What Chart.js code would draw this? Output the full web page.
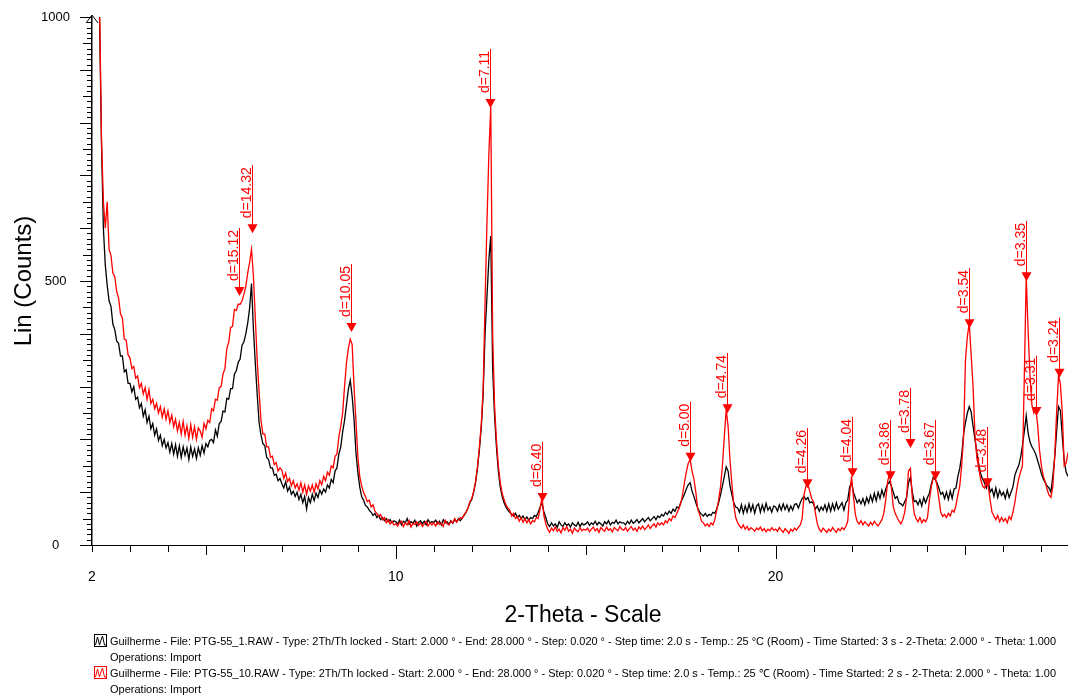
<!DOCTYPE html>
<html>
<head>
<meta charset="utf-8">
<title>XRD PTG-55</title>
<script src="https://cdn.jsdelivr.net/npm/chart.js@4.4.1/dist/chart.umd.min.js"></script>
<style>
  html, body { margin: 0; padding: 0; background: #fff; }
  #wrap { width: 1068px; height: 696px; }
</style>
</head>
<body>
<div id="wrap"><canvas id="xrdChart" width="1068" height="696"></canvas></div>
<script>
// scan: start 2.00 deg, every 0.05 deg
const START = 2.0;
const STEP = 0.05;

// PTG-55_1 (black), one row per degree
const black = [
    1500, 1400, 1300, 1150, 990, 760, 600, 530, 492, 462, 452, 418, 408, 386, 382, 358, 358, 328, 332, 306,
    306, 290, 300, 276, 280, 260, 268, 244, 256, 232, 244, 220, 230, 208, 220, 198, 208, 188, 200, 184,
    194, 176, 192, 172, 190, 168, 188, 166, 186, 170, 184, 162, 186, 168, 182, 164, 184, 170, 188, 174,
    192, 186, 198, 200, 194, 218, 206, 230, 234, 254, 252, 278, 276, 296, 296, 324, 330, 346, 352, 378,
    385, 400, 420, 448, 495, 410, 345, 285, 232, 208, 192, 188, 166, 162, 146, 146, 132, 134, 122, 126,
    116, 108, 120, 102, 110, 96, 102, 92, 100, 86, 96, 80, 92, 68, 90, 80, 96, 84, 98, 90,
    104, 96, 106, 100, 114, 108, 124, 118, 140, 146, 172, 186, 214, 236, 265, 295, 312, 282, 238, 175,
    138, 110, 92, 85, 75, 72, 66, 62, 56, 60, 52, 56, 48, 52, 46, 50, 44, 48, 42, 46,
    44, 40, 47, 38, 45, 42, 50, 39, 44, 41, 47, 36, 43, 46, 40, 45, 38, 48, 42, 44,
    43, 47, 40, 45, 38, 48, 42, 44, 39, 46, 41, 48, 44, 50, 46, 52, 56, 62, 70, 80,
    86, 100, 118, 145, 180, 222, 285, 400, 470, 540, 585, 335, 245, 185, 140, 110, 92, 80, 72, 66,
    62, 58, 55, 60, 52, 56, 50, 55, 48, 53, 47, 52, 50, 56, 54, 62, 72, 80, 62, 52,
    40, 35, 42, 36, 40, 33, 44, 38, 35, 42, 37, 40, 34, 42, 38, 36, 43, 35, 41, 38,
    40, 44, 37, 42, 39, 45, 38, 43, 40, 36, 44, 40, 46, 38, 43, 41, 47, 40, 44, 42,
    42, 38, 45, 40, 47, 41, 44, 48, 42, 46, 50, 44, 48, 52, 46, 50, 54, 48, 55, 52,
    58, 55, 62, 58, 64, 60, 68, 64, 72, 70, 80, 88, 96, 106, 114, 118, 102, 92, 80, 70,
    62, 58, 55, 60, 54, 58, 56, 62, 60, 68, 80, 95, 112, 130, 148, 140, 112, 95, 80, 72,
    70, 62, 76, 60, 74, 62, 78, 64, 76, 60, 74, 78, 62, 76, 64, 79, 66, 72, 62, 74,
    72, 64, 76, 66, 78, 67, 76, 64, 74, 66, 77, 78, 70, 80, 88, 92, 86, 90, 80, 82,
    78, 68, 74, 64, 72, 66, 76, 64, 78, 64, 78, 66, 80, 68, 74, 80, 66, 80, 85, 110,
    118, 100, 90, 80, 86, 78, 88, 76, 90, 80, 94, 82, 98, 84, 100, 88, 104, 92, 106, 115,
    120, 112, 100, 88, 92, 80, 78, 74, 82, 90, 118, 128, 100, 82, 84, 76, 86, 74, 90, 80,
    90, 98, 115, 128, 124, 118, 108, 96, 100, 88, 100, 86, 102, 88, 106, 108, 130, 145, 170, 210,
    232, 250, 262, 252, 225, 200, 175, 152, 135, 125, 118, 108, 122, 100, 106, 92, 108, 90, 104, 94,
    100, 88, 104, 90, 100, 110, 132, 142, 150, 165, 188, 215, 245, 212, 195, 186, 180, 172, 160, 148,
    135, 125, 118, 112, 108, 100, 130, 165, 215, 262, 255, 205, 160, 138, 130
];

// PTG-55_10 (red)
const red = [
    1500, 1400, 1300, 1200, 1020, 770, 650, 600, 650, 560, 548, 515, 508, 480, 468, 438, 430, 390, 388, 360,
    354, 334, 338, 316, 320, 298, 306, 286, 298, 276, 294, 268, 276, 258, 268, 250, 262, 242, 258, 238,
    254, 232, 246, 224, 238, 216, 232, 210, 234, 208, 226, 202, 228, 204, 224, 200, 222, 216, 204, 230,
    220, 236, 232, 258, 254, 276, 274, 298, 300, 324, 334, 372, 384, 412, 414, 446, 444, 456, 456, 462,
    475, 490, 515, 535, 560, 510, 430, 350, 290, 236, 210, 210, 186, 186, 166, 168, 152, 156, 140, 146,
    142, 126, 136, 120, 126, 112, 122, 108, 116, 104, 118, 100, 114, 96, 112, 102, 114, 100, 116, 106,
    122, 114, 130, 122, 138, 132, 150, 146, 168, 172, 205, 225, 250, 300, 345, 372, 390, 380, 300, 235,
    168, 130, 112, 100, 92, 82, 85, 72, 76, 64, 60, 54, 58, 48, 52, 42, 48, 40, 45, 38,
    40, 36, 43, 45, 35, 42, 38, 46, 34, 41, 39, 44, 37, 42, 35, 40, 45, 36, 42, 38,
    42, 36, 44, 39, 41, 35, 47, 40, 38, 45, 42, 50, 43, 48, 52, 50, 58, 62, 70, 82,
    88, 102, 120, 148, 185, 228, 295, 460, 610, 740, 830, 400, 265, 198, 150, 118, 98, 86, 76, 70,
    66, 55, 60, 50, 54, 45, 52, 43, 50, 42, 48, 40, 46, 44, 52, 50, 70, 90, 55, 40,
    30, 24, 32, 27, 34, 26, 30, 23, 33, 28, 35, 26, 30, 22, 32, 28, 25, 33, 27, 30,
    28, 32, 25, 30, 34, 27, 31, 24, 33, 29, 26, 34, 28, 31, 25, 33, 30, 27, 35, 30,
    28, 33, 26, 31, 35, 28, 32, 26, 34, 30, 36, 29, 33, 38, 31, 36, 40, 34, 42, 38,
    42, 38, 46, 42, 50, 46, 55, 52, 60, 68, 78, 95, 118, 138, 155, 162, 140, 125, 100, 68,
    58, 45, 42, 36, 40, 35, 42, 38, 48, 66, 85, 110, 150, 205, 256, 225, 160, 115, 75, 52,
    42, 36, 32, 38, 30, 35, 28, 33, 30, 26, 32, 29, 34, 27, 31, 25, 30, 27, 33, 28,
    30, 26, 33, 28, 24, 31, 27, 22, 30, 26, 32, 28, 34, 38, 50, 95, 112, 115, 102, 88,
    82, 60, 40, 30, 25, 32, 28, 24, 30, 26, 33, 28, 24, 31, 27, 33, 29, 35, 45, 95,
    130, 92, 58, 44, 40, 46, 38, 44, 40, 36, 43, 38, 45, 40, 36, 42, 48, 60, 85, 120,
    136, 108, 72, 60, 52, 45, 40, 48, 62, 90, 140, 145, 90, 60, 50, 44, 52, 42, 48, 44,
    52, 85, 110, 126, 130, 112, 88, 62, 54, 58, 52, 60, 55, 66, 62, 75, 95, 112, 150, 205,
    350, 395, 420, 360, 300, 210, 165, 145, 125, 112, 108, 116, 112, 85, 62, 55, 48, 56, 44, 52,
    45, 50, 42, 54, 48, 62, 80, 105, 125, 138, 150, 320, 510, 405, 320, 265, 250, 258, 228, 180,
    150, 130, 120, 105, 95, 90, 110, 170, 250, 320, 305, 250, 150, 155, 175
];

const twoTheta = black.map((_, i) => +(START + i * STEP).toFixed(2));

// peak search marks on the red scan
const peakTheta = [5.87, 6.20, 8.81, 12.48, 13.84, 17.74, 18.73, 20.83, 22.00, 23.02, 23.53, 24.19, 25.10, 25.58, 26.60, 26.87, 27.47];
const peakCounts = [481, 600, 413, 837, 91, 167, 259, 117, 138, 132, 193, 132, 420, 119, 509, 254, 326];
const peakLabels = ['d=15.12', 'd=14.32', 'd=10.05', 'd=7.11', 'd=6.40', 'd=5.00', 'd=4.74', 'd=4.26', 'd=4.04',
    'd=3.86', 'd=3.78', 'd=3.67', 'd=3.54', 'd=3.48', 'd=3.35', 'd=3.31', 'd=3.24'];

const xTicks = [2, 10, 20];
const yTicks = [0, 500, 1000];

const legendLines = [
    'Guilherme - File: PTG-55_1.RAW - Type: 2Th/Th locked - Start: 2.000 ° - End: 28.000 ° - Step: 0.020 ° - Step time: 2.0 s - Temp.: 25 °C (Room) - Time Started: 3 s - 2-Theta: 2.000 ° - Theta: 1.000',
    'Guilherme - File: PTG-55_10.RAW - Type: 2Th/Th locked - Start: 2.000 ° - End: 28.000 ° - Step: 0.020 ° - Step time: 2.0 s - Temp.: 25 ℃ (Room) - Time Started: 2 s - 2-Theta: 2.000 ° - Theta: 1.00'
];

const FONT = '"Liberation Sans", Arial, sans-serif';

const decor = {
    id: 'decor',
    afterDraw(chart) {
        const { ctx, chartArea: area, scales: { x, y } } = chart;
        ctx.save();
        ctx.strokeStyle = '#000';
        ctx.lineWidth = 1;

        // x tick marks, one per degree
        for (let v = 2; v <= 27; v++) {
            const px = Math.round(x.getPixelForValue(v)) + 0.5;
            const len = v % 10 === 0 ? 14 : (v % 5 === 0 ? 10 : 7);
            ctx.beginPath();
            ctx.moveTo(px, area.bottom);
            ctx.lineTo(px, area.bottom + len);
            ctx.stroke();
        }
        // y tick marks
        for (let v = 0; v <= 1000; v += 10) {
            const py = Math.round(y.getPixelForValue(v)) + 0.5;
            const len = v % 100 === 0 ? 12 : (v % 50 === 0 ? 9 : 5);
            ctx.beginPath();
            ctx.moveTo(area.left - len, py);
            ctx.lineTo(area.left, py);
            ctx.stroke();
        }
        // caret on top of the y axis
        ctx.beginPath();
        ctx.moveTo(area.left - 6, area.top + 6);
        ctx.lineTo(area.left, area.top - 2);
        ctx.lineTo(area.left + 6, area.top + 6);
        ctx.stroke();

        // peak marks
        ctx.fillStyle = '#ff0000';
        ctx.strokeStyle = '#ff0000';
        ctx.font = '14px ' + FONT;
        peakTheta.forEach((t, i) => {
            const px = Math.round(x.getPixelForValue(t)) + 0.5;
            const py = y.getPixelForValue(peakCounts[i]);
            const w = ctx.measureText(peakLabels[i]).width;
            const textBottom = py - 10;
            ctx.beginPath();
            ctx.moveTo(px, py);
            ctx.lineTo(px, textBottom - w - 2);
            ctx.stroke();
            ctx.beginPath();
            ctx.moveTo(px - 5, py - 4);
            ctx.lineTo(px + 5, py - 4);
            ctx.lineTo(px, py + 5);
            ctx.closePath();
            ctx.fill();
            ctx.save();
            ctx.translate(px - 2, textBottom);
            ctx.rotate(-Math.PI / 2);
            ctx.textAlign = 'left';
            ctx.textBaseline = 'alphabetic';
            ctx.fillText(peakLabels[i], 0, 0);
            ctx.restore();
        });

        // axis titles
        ctx.fillStyle = '#000';
        ctx.textAlign = 'center';
        ctx.textBaseline = 'middle';
        ctx.font = '23px ' + FONT;
        ctx.fillText('2-Theta - Scale', 583, 616);
        ctx.save();
        ctx.translate(24, 281);
        ctx.rotate(-Math.PI / 2);
        ctx.font = '24px ' + FONT;
        ctx.fillText('Lin (Counts)', 0, 0);
        ctx.restore();

        // scan legend
        const colors = ['#000000', '#ff0000'];
        ctx.font = '11px ' + FONT;
        ctx.textAlign = 'left';
        legendLines.forEach((line, i) => {
            const top = 634 + i * 32;
            ctx.strokeStyle = colors[i];
            ctx.lineWidth = 1;
            ctx.strokeRect(94.5, top + 0.5, 12, 12);
            ctx.beginPath();
            ctx.moveTo(95.5, top + 11);
            ctx.lineTo(97.5, top + 3);
            ctx.lineTo(99.5, top + 11);
            ctx.lineTo(101, top + 6);
            ctx.lineTo(102.5, top + 2);
            ctx.lineTo(104.5, top + 11);
            ctx.lineTo(106, top + 11);
            ctx.stroke();
            ctx.fillStyle = '#000';
            ctx.fillText(line, 110, top + 7.5, 946);
            ctx.fillText('Operations: Import', 110, top + 23.5);
        });
        ctx.restore();
    }
};

const ctx = document.getElementById('xrdChart').getContext('2d');

const chart = new Chart(ctx, {
    type: 'line',
    data: {
        datasets: [
            {
                label: 'PTG-55_10',
                data: twoTheta.map((t, i) => ({ x: t, y: red[i] })),
                borderColor: '#ff0000',
                borderWidth: 1.3,
                pointRadius: 0,
                tension: 0,
                order: 0
            },
            {
                label: 'PTG-55_1',
                data: twoTheta.map((t, i) => ({ x: t, y: black[i] })),
                borderColor: '#000000',
                borderWidth: 1.3,
                pointRadius: 0,
                tension: 0,
                order: 1
            }
        ]
    },
    options: {
        responsive: false,
        animation: false,
        layout: { padding: { top: 17, right: 0, left: 0, bottom: 0 } },
        plugins: {
            legend: { display: false },
            tooltip: { enabled: false },
            title: { display: false }
        },
        scales: {
            x: {
                type: 'linear',
                min: 2,
                max: 27.7,
                grid: { display: false, drawTicks: false },
                border: { display: true, color: '#000', width: 1 },
                ticks: {
                    autoSkip: false,
                    maxRotation: 0,
                    padding: 24,
                    color: '#000',
                    font: { family: FONT, size: 14 },
                    callback: (v) => String(v)
                },
                afterBuildTicks: (scale) => { scale.ticks = xTicks.map(v => ({ value: v })); },
                afterFit: (scale) => { scale.height = 151; scale.paddingLeft = 0; scale.paddingRight = 0; }
            },
            y: {
                type: 'linear',
                min: 0,
                max: 1000,
                grid: { display: false, drawTicks: false },
                border: { display: true, color: '#000', width: 1.5 },
                ticks: {
                    autoSkip: false,
                    crossAlign: 'center',
                    padding: 22,
                    color: '#000',
                    font: { family: FONT, size: 13 },
                    callback: (v) => String(v)
                },
                afterBuildTicks: (scale) => { scale.ticks = yTicks.map(v => ({ value: v })); },
                afterFit: (scale) => { scale.width = 92; scale.paddingTop = 8; scale.paddingBottom = 8; }
            }
        }
    },
    plugins: [decor]
});
</script>
</body>
</html>
